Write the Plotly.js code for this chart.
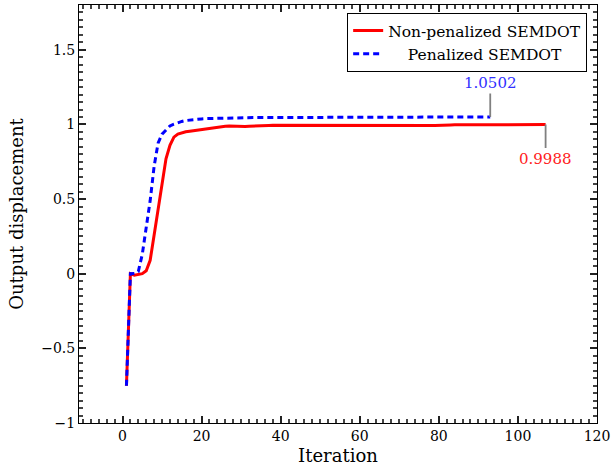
<!DOCTYPE html>
<html>
<head>
<meta charset="utf-8">
<script src="https://cdn.plot.ly/plotly-3.0.1.min.js"></script>
<style>html,body{margin:0;padding:0;background:#fff;}#chart{width:611px;height:473px;}</style>
</head>
<body>
<div id="chart"></div>
<script>
// Non-penalized SEMDOT, iterations 1..107
const nonPenalized = [
  -0.750, 0.000, -0.010, -0.005, 0.000, 0.020, 0.090, 0.260, 0.440, 0.620,
   0.770, 0.860, 0.915, 0.935, 0.945, 0.951, 0.955, 0.959, 0.963, 0.967,
   0.971, 0.975, 0.979, 0.983, 0.986, 0.988, 0.989, 0.987, 0.985, 0.985,
   0.986, 0.988, 0.990, 0.991, 0.992, 0.993, 0.993, 0.994, 0.994, 0.994,
   0.995, 0.995, 0.995, 0.996, 0.996, 0.996, 0.996, 0.997, 0.997, 0.997,
   0.997, 0.997, 0.997, 0.997, 0.998, 0.998, 0.998, 0.998, 0.998, 0.998,
   0.998, 0.998, 0.998, 0.998, 0.998, 0.998, 0.998, 0.998, 0.998, 0.998,
   0.998, 0.998, 0.998, 0.998, 0.998, 0.997, 0.996, 0.993, 0.992, 0.992,
   0.993, 0.995, 0.997, 0.998, 0.998, 0.998, 0.998, 0.998, 0.998, 0.998,
   0.998, 0.998, 0.998, 0.998, 0.998, 0.998, 0.998, 0.998, 0.999, 0.999,
   0.999, 0.999, 0.999, 0.999, 0.999, 0.999, 0.9988
];
// Penalized SEMDOT, iterations 1..93
const penalized = [
  -0.750, 0.000, 0.002, 0.015, 0.130, 0.300, 0.490, 0.720, 0.875, 0.935,
   0.965, 0.990, 1.002, 1.012, 1.020, 1.026, 1.030, 1.033, 1.035, 1.037,
   1.039, 1.040, 1.041, 1.042, 1.043, 1.044, 1.045, 1.045, 1.045, 1.046,
   1.046, 1.046, 1.046, 1.046, 1.046, 1.047, 1.047, 1.047, 1.047, 1.047,
   1.047, 1.047, 1.048, 1.050, 1.050, 1.050, 1.050, 1.050, 1.050, 1.050,
   1.050, 1.050, 1.050, 1.050, 1.050, 1.050, 1.050, 1.050, 1.050, 1.050,
   1.050, 1.050, 1.050, 1.050, 1.050, 1.050, 1.050, 1.050, 1.050, 1.050,
   1.050, 1.050, 1.050, 1.050, 1.050, 1.050, 1.050, 1.050, 1.050, 1.050,
   1.050, 1.050, 1.050, 1.050, 1.050, 1.050, 1.050, 1.050, 1.050, 1.050,
   1.050, 1.050, 1.0502
];
const seriesNames = ["Non-penalized SEMDOT", "\u00a0\u00a0\u00a0\u00a0Penalized SEMDOT"];
const xTitle = "Iteration";
const yTitle = "Output displacement";

const itersNP = nonPenalized.map((_, i) => i + 1);
const itersP = penalized.map((_, i) => i + 1);
const lastNP = nonPenalized.length, lastP = penalized.length;

const FONT = "DejaVu Serif";
const X_RANGE = [-11, 120], X_MAJOR = 20, X_MINOR = 2;
const Y_RANGE = [-1, 1.8], Y_MAJOR = 0.5, Y_MINOR = 0.05;

const traces = [
  {x: itersNP, y: nonPenalized, type: "scatter", mode: "lines", name: seriesNames[0],
   line: {color: "#ff0000", width: 3}},
  {x: itersP, y: penalized, type: "scatter", mode: "lines", name: seriesNames[1],
   line: {color: "#0000ff", width: 3, dash: "6px,4px"}}
];

const layout = {
  width: 611, height: 473,
  margin: {l: 79, r: 14, t: 5, b: 50},
  font: {family: FONT, color: "#000", size: 14},
  showlegend: true,
  legend: {x: 0.981, y: 0.981, xanchor: "right", yanchor: "top",
           bgcolor: "#fff", bordercolor: "#000", borderwidth: 1,
           font: {family: FONT, size: 15.5}, itemwidth: 30},
  xaxis: {
    showline: true, linecolor: "#000", linewidth: 1, mirror: "allticks",
    showgrid: false, zeroline: false,
    ticks: "inside", ticklen: 7, tickcolor: "#222", tickwidth: 1.5,
    minor: {ticks: "inside", ticklen: 4, tickcolor: "#444", tickwidth: 1.5, dtick: X_MINOR},
    range: X_RANGE, tick0: 0, dtick: X_MAJOR,
    tickfont: {family: FONT, size: 14, color: "#000"},
    title: {text: xTitle, font: {family: FONT, size: 18}, standoff: 6}
  },
  yaxis: {
    showline: true, linecolor: "#000", linewidth: 1, mirror: "allticks",
    showgrid: false, zeroline: false,
    ticks: "inside", ticklen: 7, tickcolor: "#222", tickwidth: 1.5,
    minor: {ticks: "inside", ticklen: 4, tickcolor: "#444", tickwidth: 1.5, dtick: Y_MINOR},
    range: Y_RANGE, tick0: -1, dtick: Y_MAJOR,
    tickfont: {family: FONT, size: 14, color: "#000"},
    title: {text: yTitle, font: {family: FONT, size: 18}, standoff: 12}
  },
  annotations: [
    {x: lastP, y: penalized[lastP - 1], xref: "x", yref: "y",
     text: penalized[lastP - 1].toFixed(4), showarrow: true, arrowhead: 0,
     arrowcolor: "#808080", arrowwidth: 1.8, ax: 0, ay: -34, standoff: 0,
     font: {family: FONT, size: 15, color: "#3030ff"}},
    {x: lastNP, y: nonPenalized[lastNP - 1], xref: "x", yref: "y",
     text: nonPenalized[lastNP - 1].toFixed(4), showarrow: true, arrowhead: 0,
     arrowcolor: "#808080", arrowwidth: 1.8, ax: 0, ay: 34, standoff: 0,
     font: {family: FONT, size: 15, color: "#ff2020"}}
  ]
};

Plotly.newPlot("chart", traces, layout, {displayModeBar: false});
</script>
</body>
</html>
